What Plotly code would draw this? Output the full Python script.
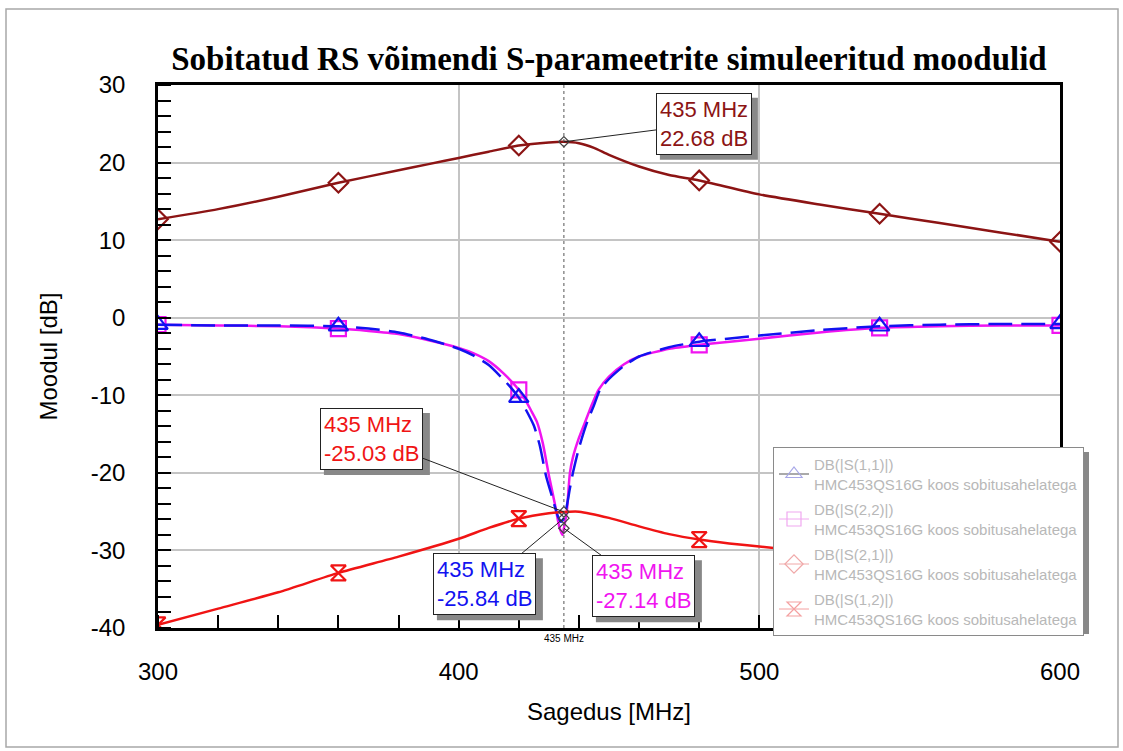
import plotly.graph_objects as go

# Frequency grid (MHz) and simulated S-parameter magnitudes (dB)
freq_s11 = [300, 320, 340, 360, 370, 380, 390, 400, 405, 410, 415, 418, 420, 422, 425, 427,
            429, 431, 433, 434, 435, 436, 437, 438, 440, 442.7, 445, 447, 450, 455, 460, 470,
            480, 500, 520, 540, 560, 580, 600]
s11 = [-0.9, -1.0, -1.0, -1.1, -1.4, -1.9, -2.8, -4.0, -4.9, -6.1, -8.0, -9.3, -10.3, -11.6,
       -13.9, -16.5, -20.3, -23.0, -25.6, -26.3, -25.84, -24.2, -22.0, -20.0, -16.8, -13.5,
       -11.3, -9.3, -7.9, -6.2, -5.0, -3.8, -3.1, -2.3, -1.6, -1.1, -0.9, -0.8, -0.8]

freq_s22 = [300, 320, 340, 360, 370, 380, 390, 400, 405, 410, 415, 418, 420, 422, 424, 426,
            428, 430, 432, 433.5, 434.5, 435, 436, 437, 438, 440, 442, 444, 446.5, 450, 455,
            460, 470, 480, 500, 520, 540, 560, 580, 600]
s22 = [-0.9, -1.0, -1.1, -1.4, -1.7, -2.1, -2.9, -3.9, -4.6, -5.6, -7.2, -8.4, -9.3, -10.5,
       -11.9, -13.4, -16.2, -20.3, -24.0, -27.0, -28.0, -27.14, -24.8, -20.0, -18.0, -15.5,
       -13.5, -11.5, -9.3, -7.6, -6.0, -5.0, -4.0, -3.5, -2.7, -1.9, -1.3, -1.1, -1.0, -1.0]

freq_s21 = [300, 320, 340, 360, 380, 390, 400, 410, 420, 430, 435, 440, 445, 450, 460, 470,
            480, 500, 520, 540, 560, 580, 600]
s21 = [12.7, 14.0, 15.6, 17.4, 19.0, 19.8, 20.6, 21.4, 22.2, 22.6, 22.68, 22.5, 21.9, 21.0,
       19.5, 18.4, 17.7, 15.9, 14.6, 13.4, 12.2, 11.0, 9.8]

freq_s12 = [300, 320, 340, 360, 380, 400, 410, 420, 430, 435, 440, 450, 460, 470, 480, 490,
            500, 520, 540, 560, 580, 600]
s12 = [-39.6, -37.5, -35.4, -32.9, -30.8, -28.5, -27.1, -25.9, -25.2, -25.03, -25.0, -25.8,
       -26.9, -27.9, -28.6, -29.1, -29.5, -30.3, -31.0, -31.5, -32.0, -32.4]

marker_freqs = [300, 360, 420, 480, 540, 600]
marker_freq = 435

legend_names = ["DB(|S(1,1)|)", "DB(|S(2,2)|)", "DB(|S(2,1)|)", "DB(|S(1,2)|)"]
legend_sub = "HMC453QS16G koos sobitusahelatega"

x_ticks = [300, 400, 500, 600]
y_ticks = [30, 20, 10, 0, -10, -20, -30, -40]

C_S11 = "#1212f0"
C_S22 = "#f014f0"
C_S21 = "#8c1414"
C_S12 = "#f01414"

SANS = "Liberation Sans, Arial, sans-serif"


def at(freqs, vals, f):
    return vals[freqs.index(f)]


fig = go.Figure()


def curve(freqs, vals, color, dash, symbol, msize):
    fig.add_trace(go.Scatter(
        x=freqs, y=vals, mode="lines",
        line=dict(color=color, width=2.5, dash=dash, shape="spline", smoothing=0.6),
        showlegend=False, hoverinfo="skip"))
    fig.add_trace(go.Scatter(
        x=marker_freqs, y=[at(freqs, vals, f) for f in marker_freqs], mode="markers",
        marker=dict(symbol=symbol, size=msize, color=color, line=dict(color=color, width=2.2)),
        showlegend=False, hoverinfo="skip"))


curve(freq_s22, s22, C_S22, "solid", "square-open", 15)
curve(freq_s11, s11, C_S11, "24px,9px", "triangle-up-open", 17)
curve(freq_s21, s21, C_S21, "solid", "diamond-open", 15)
curve(freq_s12, s12, C_S12, "solid", "hourglass-open", 15)

# marker readouts at 435 MHz
mk_vals = [at(freq_s21, s21, marker_freq), at(freq_s12, s12, marker_freq),
           at(freq_s11, s11, marker_freq), at(freq_s22, s22, marker_freq)]
fig.add_trace(go.Scatter(
    x=[marker_freq] * 4, y=mk_vals, mode="markers",
    marker=dict(symbol="diamond-open", size=8, color="#444", line=dict(color="#444", width=1.2)),
    showlegend=False, hoverinfo="skip"))

# legend entries (faded)
leg_cols = ["#a8a8e8", "#f0a8f0", "#f0a8a8", "#f4a0a0"]
leg_line = ["#555555", "#f0a8f0", "#f0a8a8", "#f4a0a0"]
leg_sym = ["triangle-up-open", "square-open", "diamond-open", "hourglass-open"]
for i, (name, c, lc, s) in enumerate(zip(legend_names, leg_cols, leg_line, leg_sym)):
    fig.add_trace(go.Scatter(
        x=[None], y=[None], mode="lines+markers", name=name + "<br>" + legend_sub,
        legendgroup=f"g{i}",
        line=dict(color=lc, width=1),
        marker=dict(symbol=s, size=14, color=c, line=dict(color=c, width=1.2))))

# vertical marker line
fig.add_shape(type="line", x0=marker_freq, x1=marker_freq, xref="x", y0=0, y1=1, yref="paper",
              line=dict(color="#555", width=1, dash="3px,3px"), layer="above")


def px2paper(px, py):
    return (px - 158) / 902, (628 - py) / 543


# outer frame
x0, y0 = px2paper(6, 747)
x1, y1 = px2paper(1118, 9)
fig.add_shape(type="rect", xref="paper", yref="paper", x0=x0, y0=y0, x1=x1, y1=y1,
              line=dict(color="#a8a8a8", width=1.5), layer="below")

# legend shadow
x0, y0 = px2paper(778, 634)
x1, y1 = px2paper(1089, 452)
fig.add_shape(type="rect", xref="paper", yref="paper", x0=x0, y0=y0, x1=x1, y1=y1,
              line=dict(width=0), fillcolor="#888888", layer="above")

# value callouts: (value, colour, text offset x, text offset y, box width)
callouts = [
    (mk_vals[0], C_S21, 140, -18, 98),
    (mk_vals[1], C_S12, -192, -73, 106),
    (mk_vals[2], C_S11, -79, 66, 106),
    (mk_vals[3], C_S22, 80, 58, 106),
]
BOX_H = 62
SH = 5
for val, col, ax, ay, bw in callouts:
    # drop shadow behind the callout box
    fig.add_shape(type="rect", xref="x", yref="y", xsizemode="pixel", ysizemode="pixel",
                  xanchor=marker_freq, yanchor=val,
                  x0=ax - bw / 2 + SH, x1=ax + bw / 2 + SH,
                  y0=-ay - BOX_H / 2 - SH, y1=-ay + BOX_H / 2 - SH,
                  line=dict(width=0), fillcolor="#888888", layer="above")
    fig.add_annotation(x=marker_freq, y=val, ax=ax, ay=ay,
                       text=f"{marker_freq} MHz<br>{val:.2f} dB", showarrow=True,
                       arrowhead=0, arrowwidth=1, arrowcolor="#222", standoff=0,
                       font=dict(family=SANS, size=22, color=col), bgcolor="white",
                       bordercolor="#222", borderwidth=1, borderpad=3, align="left")

fig.add_annotation(x=marker_freq, y=0, yref="paper", yanchor="top", yshift=-3,
                   text=f"{marker_freq} MHz", showarrow=False,
                   font=dict(family=SANS, size=10, color="black"))

axis_common = dict(
    showgrid=True, gridcolor="#c4c4c4", gridwidth=2, zeroline=False,
    showline=True, linecolor="black", linewidth=2.5, mirror=True,
    ticks="", tickfont=dict(family=SANS, size=24, color="black"),
)

fig.update_xaxes(range=[300, 600], tickvals=x_ticks, ticktext=[str(v) for v in x_ticks],
                 ticklabelstandoff=20,
                 minor=dict(ticks="inside", dtick=20, tick0=300, ticklen=13, tickwidth=2.2,
                            tickcolor="black", showgrid=False),
                 title=dict(text="Sagedus [MHz]", font=dict(family=SANS, size=24, color="black"),
                            standoff=20),
                 **axis_common)
fig.update_yaxes(range=[-40, 30], tickvals=y_ticks, ticktext=[str(v) for v in y_ticks],
                 ticklabelstandoff=25,
                 minor=dict(ticks="inside", dtick=2, tick0=0, ticklen=13, tickwidth=2.2,
                            tickcolor="black", showgrid=False),
                 title=dict(text="Moodul [dB]", font=dict(family=SANS, size=24, color="black"),
                            standoff=27),
                 **axis_common)

fig.update_layout(
    width=1123, height=751, autosize=False,
    margin=dict(l=158, r=63, t=85, b=123),
    paper_bgcolor="white", plot_bgcolor="white",
    title=dict(text="<b>Sobitatud RS võimendi S-parameetrite simuleeritud moodulid</b>",
               x=(158 + 1060) / 2 / 1123, xanchor="center", y=1 - 58 / 751, yanchor="middle",
               font=dict(family="Liberation Serif, Times New Roman, serif", size=33, color="black")),
    legend=dict(x=(773 - 158) / 902, y=(628 - 447) / 543, xanchor="left", yanchor="top",
                bgcolor="white", bordercolor="#8a8a8a", borderwidth=1,
                font=dict(family=SANS, size=15, color="#b8b8b8"),
                itemwidth=30, tracegroupgap=3),
    showlegend=True,
)

fig.write_html("out.html")
